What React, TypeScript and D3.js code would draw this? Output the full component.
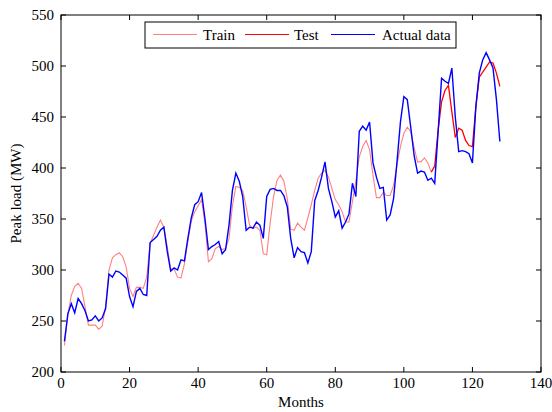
import React from "react";
import * as d3 from "d3";

const actualData: number[] = [
  230, 257, 267, 258, 272, 267, 260, 250, 251, 255, 250, 253, 262, 296, 293, 299, 298, 295, 292, 274,
  264, 279, 282, 276, 275, 327, 330, 333, 339, 342, 318, 299, 302, 300, 310, 309, 331, 351, 364, 367,
  376, 350, 320, 323, 325, 328, 316, 320, 344, 378, 395, 387, 372, 339, 342, 341, 347, 344, 331, 372,
  379, 380, 378, 378, 373, 362, 331, 312, 322, 318, 317, 307, 318, 368, 378, 391, 406, 380, 367, 352,
  358, 341, 347, 355, 385, 372, 436, 441, 437, 445, 405, 391, 380, 381, 349, 354, 370, 406, 445, 470,
  467, 440, 412, 395, 397, 396, 388, 390, 385, 436, 488, 485, 483, 498, 450, 416, 417, 416, 414, 405,
  460, 493, 506, 513, 506, 498, 467, 426,
];

const trainData: number[] = [
  226, 256, 275, 284, 287, 282, 264, 246, 246, 246, 242, 245, 264, 300, 312, 315, 317, 313, 303, 282,
  274, 283, 283, 282, 293, 326, 334, 342, 349, 342, 323, 301, 301, 293, 292, 306, 328, 348, 357, 363,
  369, 345, 308, 311, 321, 323, 320, 321, 331, 363, 382, 381, 378, 362, 344, 341, 342, 339, 316, 315,
  346, 372, 388, 393, 387, 370, 340, 339, 346, 342, 339, 351, 364, 378, 390, 395, 398, 391, 380, 369,
  364, 357, 347, 347, 367, 387, 411, 421, 427, 418, 393, 371, 371, 376, 373, 373, 383, 403, 421, 434,
  440, 436, 420, 406, 406, 410, 405, 396,
];

const testStart = 108;
const testData: number[] = [
  396, 402, 437, 465, 476, 481, 455, 430, 439, 437, 427, 422, 421, 460, 489, 494, 499, 504, 503, 493, 480,
];

const xTicks: number[] = [0, 20, 40, 60, 80, 100, 120, 140];
const yTicks: number[] = [200, 250, 300, 350, 400, 450, 500, 550];
const legendLabels: string[] = ["Train", "Test", "Actual data"];

const W = 552;
const H = 412;
const L = 61;
const R = 541;
const T = 15;
const B = 372;
const FONT = "'Liberation Serif', 'Times New Roman', serif";

export default function App() {
  const x = d3.scaleLinear().domain([0, 140]).range([L, R]);
  const y = d3.scaleLinear().domain([200, 550]).range([B, T]);

  const line = d3
    .line<[number, number]>()
    .x((d) => x(d[0]))
    .y((d) => y(d[1]));

  const trainPts: [number, number][] = trainData.map((v, i) => [i + 1, v]);
  const testPts: [number, number][] = testData.map((v, i) => [testStart + i, v]);
  const actualPts: [number, number][] = actualData.map((v, i) => [i + 1, v]);

  const tickLen = 5;
  const legendColors = ["#ff8080", "#ff0000", "#0000ff"];
  const legendLineX = [153, 245, 331];
  const legendTextX = [203, 294, 382];

  return (
    <svg
      width={W}
      height={H}
      style={{ position: "absolute", left: 0, top: 0, background: "#fff" }}
      fontFamily={FONT}
    >
      <rect x={0} y={0} width={W} height={H} fill="#fff" />
      <path d={line(trainPts) || ""} fill="none" stroke="#ff8080" strokeWidth={1.1} />
      <path d={line(testPts) || ""} fill="none" stroke="#ff0000" strokeWidth={1.3} />
      <path d={line(actualPts) || ""} fill="none" stroke="#0000ff" strokeWidth={1.4} />

      <rect x={L} y={T} width={R - L} height={B - T} fill="none" stroke="#000" strokeWidth={1} />

      {xTicks.map((t) => (
        <g key={"x" + t}>
          <line x1={x(t)} x2={x(t)} y1={B} y2={B - tickLen} stroke="#000" />
          <line x1={x(t)} x2={x(t)} y1={T} y2={T + tickLen} stroke="#000" />
          <text x={x(t)} y={388} fontSize={15} textAnchor="middle" fill="#000">
            {t}
          </text>
        </g>
      ))}
      {yTicks.map((t) => (
        <g key={"y" + t}>
          <line x1={L} x2={L + tickLen} y1={y(t)} y2={y(t)} stroke="#000" />
          <line x1={R} x2={R - tickLen} y1={y(t)} y2={y(t)} stroke="#000" />
          <text x={54} y={y(t) + 5} fontSize={15} textAnchor="end" fill="#000">
            {t}
          </text>
        </g>
      ))}

      <text x={(L + R) / 2} y={407} fontSize={15} textAnchor="middle" fill="#000">
        Months
      </text>
      <text
        transform={`translate(21,${(T + B) / 2}) rotate(-90)`}
        fontSize={15}
        textAnchor="middle"
        fill="#000"
      >
        Peak load (MW)
      </text>

      <rect x={145} y={22} width={311} height={26} fill="#fff" stroke="#000" strokeWidth={1} />
      {legendLabels.map((lab, i) => (
        <g key={lab}>
          <line
            x1={legendLineX[i]}
            x2={legendLineX[i] + 44}
            y1={34.5}
            y2={34.5}
            stroke={legendColors[i]}
            strokeWidth={1.2}
          />
          <text x={legendTextX[i]} y={40} fontSize={15} fill="#000">
            {lab}
          </text>
        </g>
      ))}
    </svg>
  );
}
